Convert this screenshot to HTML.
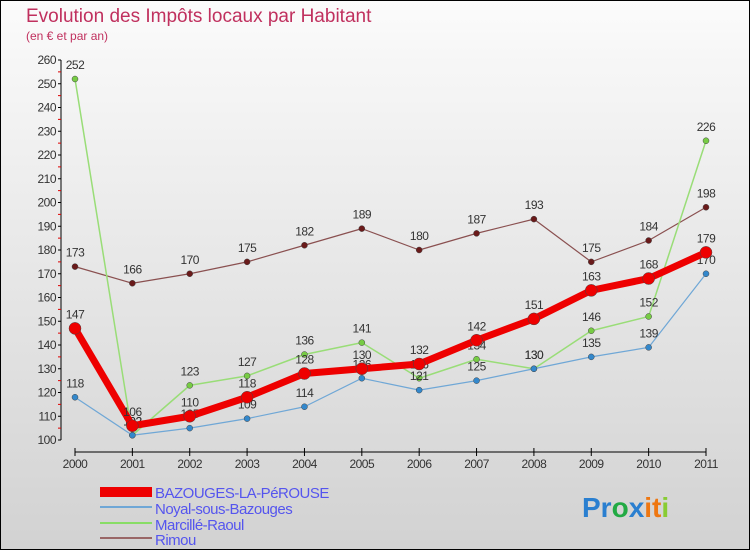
<!DOCTYPE html>
<html><head><meta charset="utf-8"><style>
body{margin:0;width:750px;height:550px;overflow:hidden;font-family:"Liberation Sans",sans-serif}
</style></head><body>
<svg width="750" height="550" xmlns="http://www.w3.org/2000/svg">
<defs><linearGradient id="bg" x1="0" y1="0" x2="0" y2="1"><stop offset="0" stop-color="#fbfbfb"/><stop offset="1" stop-color="#d2d2d2"/></linearGradient></defs>
<rect x="0.5" y="0.5" width="749" height="549" fill="url(#bg)" stroke="#000"/>
<text x="26" y="22" font-size="19" fill="#c0305e">Evolution des Impôts locaux par Habitant</text>
<text x="26" y="40" font-size="12" fill="#c0305e">(en € et par an)</text>
<g id="axes"></g><g id="series"></g>
<g font-size="15" fill="#5555ee">
<rect x="100" y="487" width="52" height="10" fill="#ee0000"/>
<text x="155" y="498" letter-spacing="-0.5">BAZOUGES-LA-PéROUSE</text>
<line x1="100" y1="507" x2="152" y2="507" stroke="#6fa7d6" stroke-width="2"/>
<text x="155" y="514" letter-spacing="-0.5">Noyal-sous-Bazouges</text>
<line x1="100" y1="523" x2="152" y2="523" stroke="#88dd66" stroke-width="2"/>
<text x="155" y="530" letter-spacing="-0.5">Marcillé-Raoul</text>
<line x1="100" y1="538" x2="152" y2="538" stroke="#996666" stroke-width="2"/>
<text x="155" y="545" letter-spacing="-0.5">Rimou</text>
</g>
<g font-size="28" font-weight="bold">
<text x="582" y="517"><tspan fill="#2a7fd0">Pr</tspan><tspan fill="#22aa44">o</tspan><tspan fill="#2a7fd0">x</tspan><tspan fill="#ee7711">it</tspan><tspan fill="#88cc33">i</tspan></text>
</g>
</svg>
<script>
const years=["2000","2001","2002","2003","2004","2005","2006","2007","2008","2009","2010","2011"];
const bazouges=[147,106,110,118,128,130,132,142,151,163,168,179];
const noyal=[118,102,105,109,114,126,121,125,130,135,139,170];
const marcille=[252,102,123,127,136,141,126,134,130,146,152,226];
const rimou=[173,166,170,175,182,189,180,187,193,175,184,198];
const yTicks=[100,110,120,130,140,150,160,170,180,190,200,210,220,230,240,250,260];
const NS="http://www.w3.org/2000/svg";
const X=i=>75+i*(706-75)/(years.length-1);
const Y=v=>440-(v-100)*380/160;
function mk(t,a,p){const e=document.createElementNS(NS,t);for(const k in a)e.setAttribute(k,a[k]);p.appendChild(e);return e;}
const ax=document.getElementById('axes');
let e=mk('line',{x1:61,y1:Y(260),x2:61,y2:440,stroke:'#000'},ax);


yTicks.forEach(v=>{
 mk('line',{x1:58,y1:Y(v),x2:61,y2:Y(v),stroke:'#000'},ax);
 if(v<260)mk('line',{x1:58,y1:Y(v+5),x2:61,y2:Y(v+5),stroke:'#d00'},ax);
 const t=mk('text',{x:56,y:Y(v)+4,'font-size':12,'text-anchor':'end',fill:'#333','letter-spacing':'-0.5'},ax);
 
 
 t.textContent=v;
});
e=mk('line',{x1:75,y1:452,x2:706,y2:452,stroke:'#000'},ax);


years.forEach((y,i)=>{
 mk('line',{x1:X(i),y1:448,x2:X(i),y2:456,stroke:'#000'},ax);
 const t=mk('text',{x:X(i),y:468,'font-size':12,'text-anchor':'middle',fill:'#333','letter-spacing':'-0.5'},ax);
 
 
 t.textContent=y;
});
const sg=document.getElementById('series');
function draw(name,data,color,w,r,dot){
 const g=mk('g',{},sg);
 
 
 mk('polyline',{points:data.map((v,i)=>X(i)+','+Y(v)).join(' '),fill:'none',stroke:color,'stroke-width':w,'stroke-linejoin':'round'},g);
 data.forEach((v,i)=>{
  const c=mk('circle',{cx:X(i),cy:Y(v),r:r,fill:dot,stroke:'#444','stroke-width':0.5},g);
  
  
  const t=mk('text',{x:X(i),y:Y(v)-10,'font-size':12,'text-anchor':'middle',fill:'#333','letter-spacing':'-0.5'},g);
  
  
  t.textContent=v;
 });
}
draw('series-rimou',rimou,'#8a5050',1.2,3,'#6a1a1a');
draw('series-marcille-raoul',marcille,'#99dd77',1.5,3,'#77cc44');
draw('series-noyal-sous-bazouges',noyal,'#6fa7d6',1.2,3,'#3388cc');
draw('series-bazouges',bazouges,'#ee0000',7,6,'#ee0000');
</script>
</body></html>
